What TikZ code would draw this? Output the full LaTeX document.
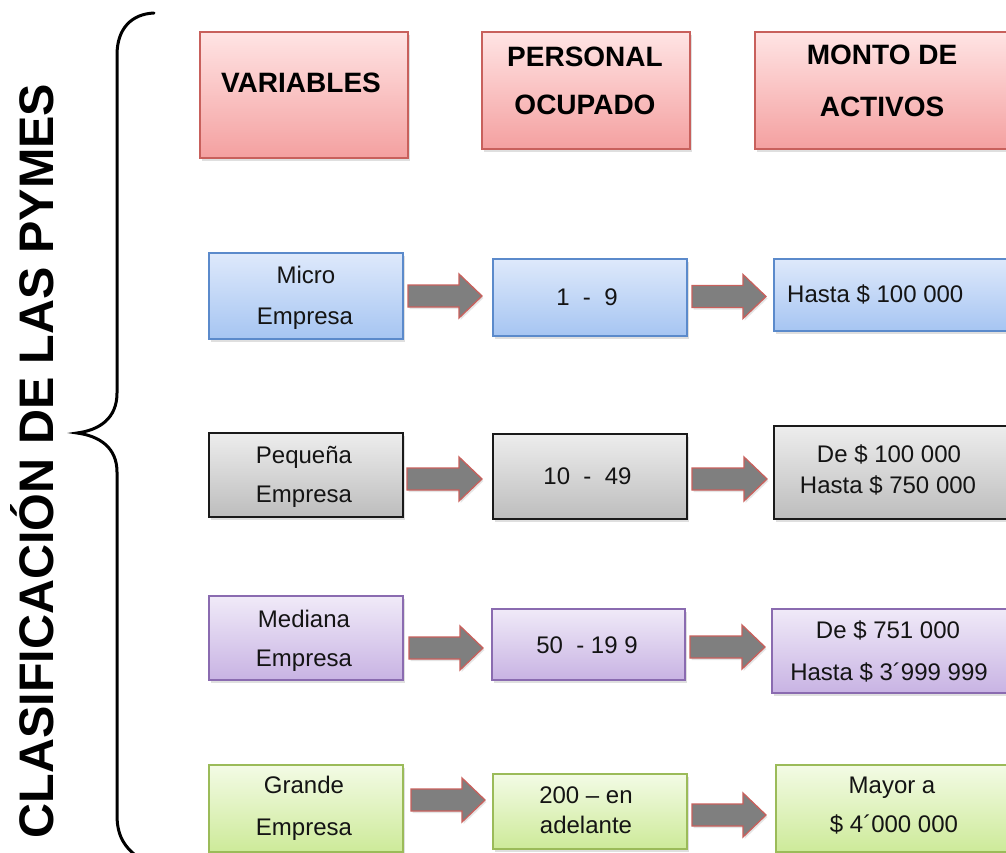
\documentclass[tikz,border=0pt]{standalone}
\usepackage{fontspec}
\setmainfont{Liberation Sans}
\usetikzlibrary{calc,shadows}
\definecolor{hdrtop}{HTML}{FFE4E4}
\definecolor{hdrbot}{HTML}{F4A0A0}
\definecolor{hdrline}{HTML}{C8605C}
\definecolor{blutop}{HTML}{DEE9FB}
\definecolor{blubot}{HTML}{A6C5F2}
\definecolor{bluline}{HTML}{5B8ACB}
\definecolor{grytop}{HTML}{EDEDED}
\definecolor{grybot}{HTML}{BDBDBD}
\definecolor{gryline}{HTML}{1A1A1A}
\definecolor{purtop}{HTML}{F0EAF8}
\definecolor{purbot}{HTML}{C8B3E3}
\definecolor{purline}{HTML}{8A6BB0}
\definecolor{grntop}{HTML}{F3FBE5}
\definecolor{grnbot}{HTML}{CDEA99}
\definecolor{grnline}{HTML}{9BBB59}
\definecolor{arrfill}{HTML}{7F7F7F}
\definecolor{arrline}{HTML}{C8605C}
\definecolor{txtcol}{HTML}{141414}
\tikzset{
  box/.style={draw, line width=1.5pt, inner sep=0pt, outer sep=0pt,
    drop shadow={shadow xshift=2pt, shadow yshift=-3pt, opacity=0.25}},
  hdr/.style={box, draw=hdrline, top color=hdrtop, bottom color=hdrbot},
  blu/.style={box, draw=bluline, top color=blutop, bottom color=blubot},
  gry/.style={box, draw=gryline, top color=grytop, bottom color=grybot},
  pur/.style={box, draw=purline, top color=purtop, bottom color=purbot},
  grn/.style={box, draw=grnline, top color=grntop, bottom color=grnbot},
  txt/.style={anchor=base, inner sep=0pt, text=txtcol, font=\fontsize{24}{28}\selectfont},
  hdrtxt/.style={anchor=base, inner sep=0pt, text=black, font=\fontsize{28}{32}\selectfont\bfseries},
  blockarr/.style={draw=arrline, fill=arrfill, line width=1.3pt, line join=miter,
    drop shadow={shadow xshift=1.5pt, shadow yshift=-2pt, opacity=0.2}},
  brace/.style={line width=3pt, line cap=round}
}
\newcommand\barrow[2]{%
  \path[blockarr] let \p1=(#1), \p2=(#2) in
    (\x1,\y1+11pt) -- (\x2-23pt,\y1+11pt) -- (\x2-23pt,\y1+22pt) -- (\x2,\y1)
    -- (\x2-23pt,\y1-22pt) -- (\x2-23pt,\y1-11pt) -- (\x1,\y1-11pt) -- cycle;}
\newcommand\bx[7]{\node[#2, minimum width=#5pt, minimum height=#6pt] (#1) at (#3,#4) {#7};}
\begin{document}
\begin{tikzpicture}[x=1pt,y=-1pt]
\useasboundingbox[fill=white] (0,0) rectangle (1006,853);

% title and brace
\node[rotate=90, anchor=base, inner sep=0pt, text=black,
  font=\fontsize{48.5}{52}\selectfont\bfseries] (title) at (53,461) {CLASIFICACIÓN DE LAS PYMES};
\draw[brace] (154,13) .. controls (132,14) and (117,28) .. (117,55)
  -- (117,393) .. controls (117,418) and (100,430) .. (77,433)
  .. controls (100,436) and (117,448) .. (117,472)
  -- (117,815) .. controls (117,838) and (126,850) .. (145,862);

% header boxes
\bx{h1}{hdr}{304}{95}{208}{126}{}
\bx{h2}{hdr}{586}{90.5}{208}{117}{}
\bx{h3}{hdr}{882.5}{90.5}{255}{117}{}
\node[hdrtxt] (h1t) at (301,93) {VARIABLES};
\node[hdrtxt] (h2ta) at (585,67) {PERSONAL};
\node[hdrtxt] (h2tb) at (585,115) {OCUPADO};
\node[hdrtxt] (h3ta) at (882,65) {MONTO DE};
\node[hdrtxt] (h3tb) at (882,117) {ACTIVOS};

% row 1 : micro
\bx{m1}{blu}{306}{296}{194}{86}{}
\bx{m2}{blu}{590}{297.5}{194}{77}{}
\bx{m3}{blu}{892}{295}{236}{72}{}
\node[txt] (m1a) at (306,283) {Micro};
\node[txt] (m1b) at (305,324) {Empresa};
\node[txt] (m2a) at (587,305) {1~~-~~9};
\node[txt, anchor=base west] (m3a) at (787,302) {Hasta \$ 100 000};
\barrow{[xshift=5pt]m1.east}{[xshift=-11pt]m2.west}
\barrow{[xshift=5pt,yshift=1pt]m2.east}{[xshift=-8pt]m3.west}

% row 2 : pequena
\bx{p1}{gry}{306}{475}{194}{84}{}
\bx{p2}{gry}{590}{476.5}{194}{85}{}
\bx{p3}{gry}{892}{472.5}{236}{93}{}
\node[txt] (p1a) at (304,463) {Pequeña};
\node[txt] (p1b) at (304,502) {Empresa};
\node[txt] (p2a) at (587.5,484) {10~~-~~49};
\node[txt] (p3a) at (889,462) {De \$ 100 000};
\node[txt] (p3b) at (888,493) {Hasta \$ 750 000};
\barrow{[xshift=4pt,yshift=-4pt]p1.east}{[xshift=-11pt]p2.west}
\barrow{[xshift=5pt,yshift=-2.5pt]p2.east}{[xshift=-7pt]p3.west}

% row 3 : mediana
\bx{d1}{pur}{306}{638}{194}{84}{}
\bx{d2}{pur}{588.5}{644.5}{193}{71}{}
\bx{d3}{pur}{891}{651}{238}{84}{}
\node[txt] (d1a) at (304,627) {Mediana};
\node[txt] (d1b) at (304,666) {Empresa};
\node[txt] (d2a) at (587,653) {50~~- 19 9};
\node[txt] (d3a) at (888,638) {De \$ 751 000};
\node[txt] (d3b) at (889,680) {Hasta \$ 3´999 999};
\barrow{[xshift=6pt,yshift=-10pt]d1.east}{[xshift=-9pt]d2.west}
\barrow{[xshift=5pt,yshift=-2.5pt]d2.east}{[xshift=-7pt]d3.west}

% row 4 : grande
\bx{g1}{grn}{306}{808.5}{194}{87}{}
\bx{g2}{grn}{590}{811.5}{194}{75}{}
\bx{g3}{grn}{893}{808.5}{234}{87}{}
\node[txt] (g1a) at (304,793) {Grande};
\node[txt] (g1b) at (304,835) {Empresa};
\node[txt] (g2a) at (586,803) {200 – en};
\node[txt] (g2b) at (586,833) {adelante};
\node[txt] (g3a) at (892,793) {Mayor a};
\node[txt] (g3b) at (894,832) {\$ 4´000 000};
\barrow{[xshift=8pt,yshift=8.5pt]g1.east}{[xshift=-8pt]g2.west}
\barrow{[xshift=5pt,yshift=-3.5pt]g2.east}{[xshift=-10pt]g3.west}
\end{tikzpicture}
\end{document}
